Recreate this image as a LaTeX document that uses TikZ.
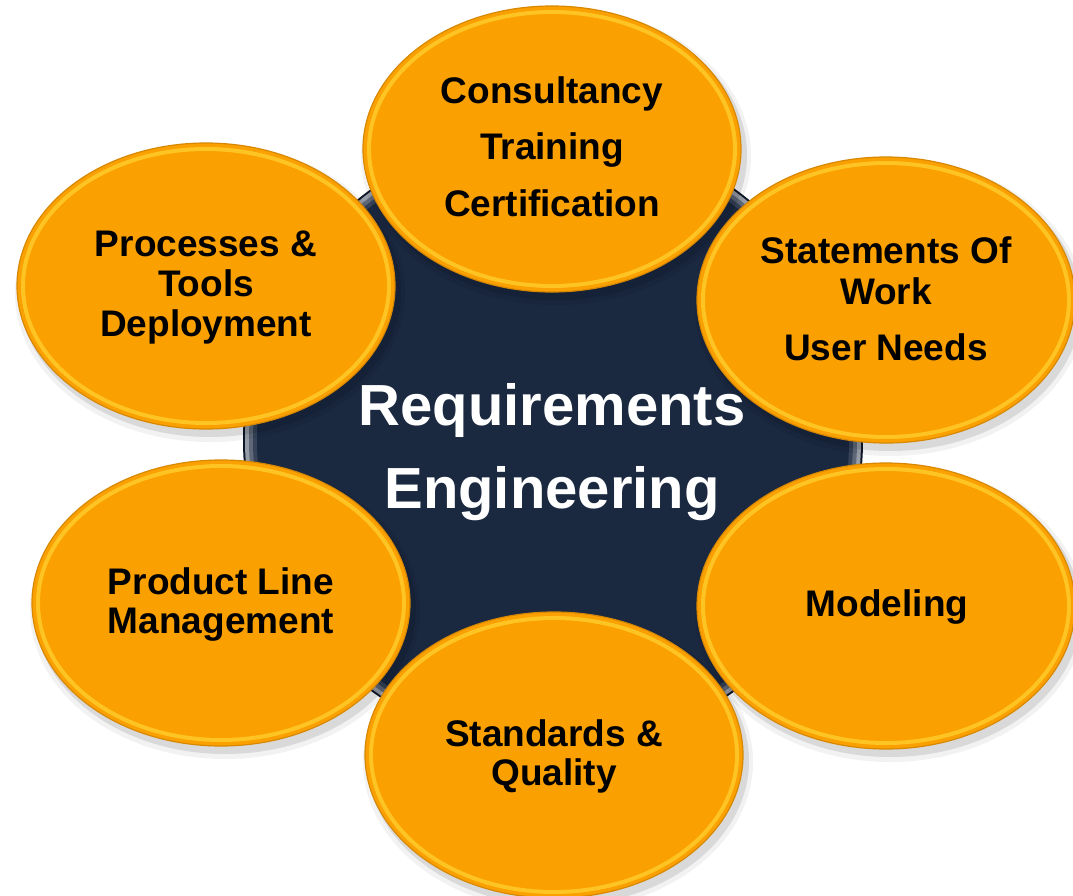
\documentclass[tikz,border=0pt]{standalone}
\usepackage{fontspec}
\setmainfont{Liberation Sans}
\usetikzlibrary{shapes.geometric}
\definecolor{navy}{HTML}{1A2840}
\definecolor{navyedge}{HTML}{0F1828}
\definecolor{orng}{HTML}{FAA000}
\definecolor{orngedge}{HTML}{D88800}
\definecolor{rim}{HTML}{FFCB2A}
\tikzset{
  bubble/.style={ellipse, minimum width=378pt, minimum height=286pt, inner sep=0pt,
    fill=orng, draw=orngedge, line width=1.2pt},
  bubbleshadow/.style={ellipse, minimum width=382pt, minimum height=290pt, inner sep=0pt,
    fill=black, fill opacity=0.10, draw=none},
  bubblerim/.style={ellipse, minimum width=366pt, minimum height=274pt, inner sep=0pt,
    draw=rim, line width=4pt, draw opacity=0.85},
  lbl/.style={anchor=base, inner sep=0pt, text=black,
    font=\fontsize{37}{40}\selectfont\bfseries},
  big/.style={anchor=base, inner sep=0pt, text=white,
    font=\fontsize{58}{64}\selectfont\bfseries},
}
\begin{document}
\begin{tikzpicture}[x=1pt,y=-1pt]
\useasboundingbox[fill=white] (0,0) rectangle (1073,896);
% central disc
\node[circle, minimum size=620pt, inner sep=0pt, fill=navyedge] (core) at (553,440) {};
\node[circle, minimum size=616pt, inner sep=0pt, fill=black!8!white!60!navy] (coreb) at (553,440) {};
\node[circle, minimum size=608pt, inner sep=0pt, fill=white!30!navy] (corec) at (553,440) {};
\node[circle, minimum size=600pt, inner sep=0pt, fill=white!12!navy] (cored) at (553,440) {};
\node[circle, minimum size=592pt, inner sep=0pt, fill=navy] (coree) at (553,440) {};
% shadows
\foreach \n/\x/\y in {s1/552/149, s2/206/286, s3/886/300, s4/221/603, s5/886/606, s6/554/755}{
  \node[bubbleshadow] (\n a) at (\x+4,\y+6) {};
  \node[bubbleshadow, minimum width=390pt, minimum height=298pt, fill opacity=0.05] (\n b) at (\x+4,\y+7) {};
}
% bubbles
\node[bubble] (top) at (552,149) {};
\node[bubblerim] (topr) at (552,149) {};
\node[bubble] (proc) at (206,286) {};
\node[bubblerim] (procr) at (206,286) {};
\node[bubble] (stat) at (886,300) {};
\node[bubblerim] (statr) at (886,300) {};
\node[bubble] (prod) at (221,603) {};
\node[bubblerim] (prodr) at (221,603) {};
\node[bubble] (mod) at (886,606) {};
\node[bubblerim] (modr) at (886,606) {};
\node[bubble] (std) at (554,755) {};
\node[bubblerim] (stdr) at (554,755) {};
% labels
\node[lbl] (t1) at (552,104) {Consultancy};
\node[lbl] (t2) at (552,160) {Training};
\node[lbl] (t3) at (552,216) {Certification};
\node[lbl] (p1) at (206,256) {Processes \&};
\node[lbl] (p2) at (206,296) {Tools};
\node[lbl] (p3) at (206,336) {Deployment};
\node[lbl] (w1) at (886,263) {Statements Of};
\node[lbl] (w2) at (886,304) {Work};
\node[lbl] (w3) at (886,360) {User Needs};
\node[lbl] (l1) at (221,594) {Product Line};
\node[lbl] (l2) at (221,633) {Management};
\node[lbl] (m1) at (887,616) {Modeling};
\node[lbl] (q1) at (554,746) {Standards \&};
\node[lbl] (q2) at (554,785) {Quality};
\node[big] (r1) at (552,425) {Requirements};
\node[big] (r2) at (552,508) {Engineering};
\end{tikzpicture}
\end{document}
